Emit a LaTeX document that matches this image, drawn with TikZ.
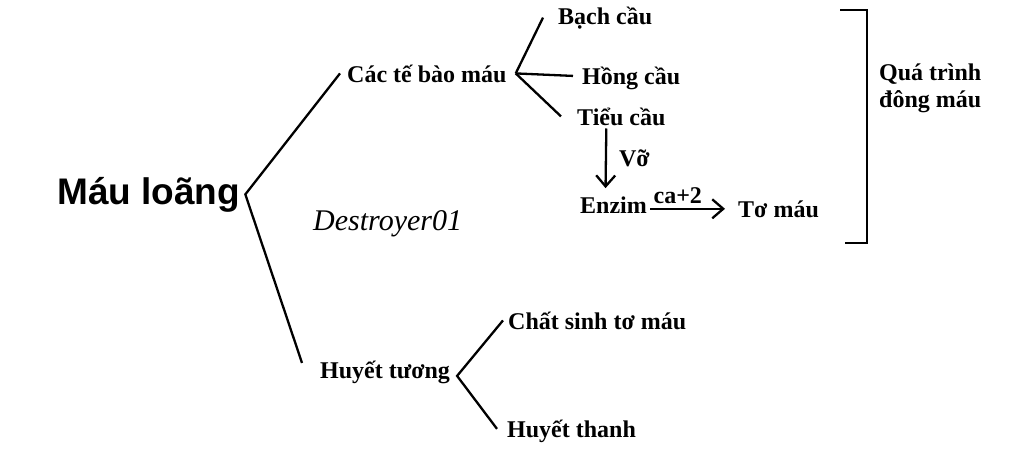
\documentclass[tikz,border=0pt]{standalone}
\usepackage{fontspec}
\setmainfont{Liberation Serif}
\newfontfamily\arialfont{Liberation Sans}
\usetikzlibrary{arrows.meta}
\tikzset{
    termtext/.style={font=\bfseries\fontsize{24}{27}\selectfont, inner sep=0,
        anchor=base west},
    branch/.style={line width=2.3pt},
    flow/.style={line width=2.3pt, -{Straight Barb[length=11pt, width=19pt]}},
}

\begin{document}
\begin{tikzpicture}[x=1pt, y=-1pt]
            \useasboundingbox (0, 0) rectangle (1024, 455);
            \node[inner sep=0, anchor=base west,
                font=\arialfont\bfseries\fontsize{37}{40}\selectfont]
                (mau) at (57, 204) {Máu loãng};
            \node[termtext] (cacte) at (347, 82) {Các tế bào máu};
            \node[termtext] (bachcau) at (558, 24) {Bạch cầu};
            \node[termtext] (hongcau) at (582, 84) {Hồng cầu};
            \node[termtext] (tieucau) at (577, 125) {Tiểu cầu};
            \node[termtext] (enzim) at (580, 213) {Enzim};
            \node[termtext] (tomau) at (738, 217) {Tơ máu};
            \node[termtext] (huyettuong) at (320, 378) {Huyết tương};
            \node[termtext] (chatsinh) at (508, 329) {Chất sinh tơ máu};
            \node[termtext] (huyetthanh) at (507, 437) {Huyết thanh};
            \node[termtext, anchor=west, align=left] (quatrinh) at (879, 88)
                {Quá trình\\đông máu};
            \node[inner sep=0, anchor=base west,
                font=\itshape\fontsize{30}{32}\selectfont] (sign) at (313, 230)
                {Destroyer01};
            % branches
            \draw[branch] ([xshift=-7pt]cacte.west) -- ([xshift=5pt]mau.east)
                -- ([xshift=-18pt, yshift=9pt]huyettuong.west);
            \foreach \n/\dx/\dy in {bachcau/-15/0, hongcau/-9/2, tieucau/-16/0} {
                \draw[branch] ([xshift=9pt]cacte.east)
                    -- ([xshift=\dx pt, yshift=\dy pt]\n.west);
            }
            \draw[branch] ([xshift=-5pt]chatsinh.west)
                -- ([xshift=7pt, yshift=-4pt]huyettuong.east)
                -- ([xshift=-10pt, yshift=2pt]huyetthanh.west);
            % arrows
            \draw[flow] ([xshift=-15pt, yshift=-3pt]tieucau.south)
                -- ([xshift=-8pt, yshift=8pt]enzim.north)
                node[midway, right=12pt, inner sep=0, termtext, anchor=west] (vo)
                {Vỡ};
            \draw[flow] ([xshift=3pt]enzim.east |- tomau.west)
                -- ([xshift=-13pt]tomau.west)
                node[pos=.37, above=4pt, termtext, anchor=south] (catwo) {ca+2};
            % bracket
            \draw[line width=2.6pt] (840, 10) -- (867, 10) -- (867, 243)
                -- (845, 243);
        \end{tikzpicture}
\end{document}
